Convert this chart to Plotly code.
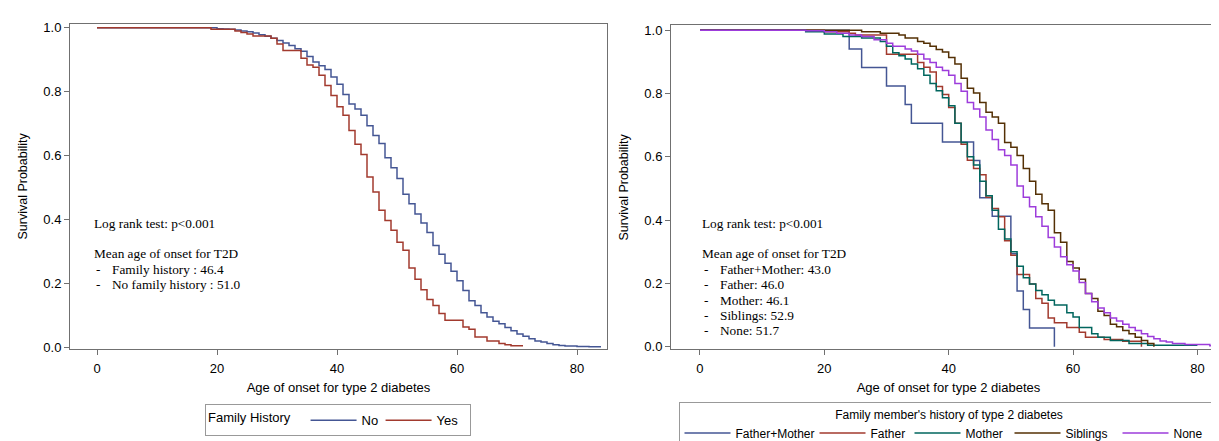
import plotly.graph_objects as go

W, H = 1219, 441

# ---------------- Data ----------------
# Left panel: Family History
no_age = [0, 20, 21, 22, 23, 24, 25, 26, 27, 28, 29, 30, 31, 32, 33, 34, 35, 36, 37, 38, 39,
          40, 41, 42, 43, 44, 45, 46, 47, 48, 49, 50, 51, 52, 53, 54, 55, 56, 57, 58, 59,
          60, 61, 62, 63, 64, 65, 66, 67, 68, 69, 70, 71, 72, 73, 74, 75, 76, 77, 78, 80, 82, 84]
no_surv = [1.0, 0.997, 0.996, 0.995, 0.993, 0.990, 0.987, 0.983, 0.978, 0.973, 0.967, 0.960, 0.952,
           0.944, 0.934, 0.926, 0.910, 0.893, 0.881, 0.869, 0.846, 0.823, 0.791, 0.761, 0.746,
           0.726, 0.693, 0.663, 0.638, 0.593, 0.562, 0.528, 0.479, 0.449, 0.417, 0.389, 0.359,
           0.319, 0.291, 0.263, 0.238, 0.208, 0.178, 0.146, 0.131, 0.108, 0.095, 0.082, 0.074,
           0.062, 0.052, 0.042, 0.035, 0.027, 0.020, 0.017, 0.012, 0.008, 0.006, 0.004, 0.003,
           0.002, 0.002]

yes_age = [0, 19, 23, 24, 25, 26, 29, 30, 31, 34, 35, 36, 37, 38, 39, 40, 41, 42, 43, 44, 45,
           46, 47, 48, 49, 50, 51, 52, 53, 54, 55, 56, 57, 58, 61, 62, 63, 65, 67, 68, 69, 71]
yes_surv = [1.0, 0.995, 0.990, 0.985, 0.980, 0.974, 0.967, 0.949, 0.929, 0.904, 0.883, 0.876,
            0.851, 0.819, 0.788, 0.753, 0.726, 0.678, 0.635, 0.603, 0.533, 0.486, 0.429, 0.397,
            0.366, 0.329, 0.304, 0.248, 0.213, 0.180, 0.150, 0.131, 0.106, 0.085, 0.064, 0.057,
            0.032, 0.020, 0.012, 0.008, 0.005, 0.005]

# Right panel: family member's history
fm_age = [0, 24, 26, 30, 33, 34, 39, 44, 45, 47, 50, 51, 52, 53, 57]
fm_surv = [1.0, 0.941, 0.882, 0.824, 0.765, 0.706, 0.647, 0.588, 0.471, 0.412, 0.294, 0.176,
           0.118, 0.059, 0.0]

fa_age = [0, 20, 24, 25, 30, 35, 36, 37, 38, 39, 40, 41, 42, 43, 44, 45, 46, 47, 48, 49, 50,
          51, 53, 54, 55, 56, 57, 59, 61, 62, 65, 68, 71]
fa_surv = [1.0, 0.995, 0.990, 0.985, 0.924, 0.898, 0.883, 0.868, 0.822, 0.797, 0.756, 0.706,
           0.640, 0.589, 0.563, 0.543, 0.472, 0.437, 0.411, 0.335, 0.289, 0.228, 0.198, 0.152,
           0.137, 0.091, 0.076, 0.061, 0.046, 0.030, 0.023, 0.017, 0.0]

mo_age = [0, 17, 20, 23, 26, 29, 30, 31, 32, 33, 34, 35, 36, 37, 38, 39, 40, 41, 42, 43, 44,
          45, 46, 47, 48, 49, 50, 51, 52, 53, 54, 55, 56, 57, 59, 60, 61, 63, 64, 66, 69, 72, 80]
mo_surv = [1.0, 0.995, 0.988, 0.980, 0.975, 0.964, 0.949, 0.929, 0.919, 0.909, 0.893, 0.878,
           0.858, 0.832, 0.809, 0.787, 0.761, 0.706, 0.645, 0.600, 0.574, 0.523, 0.477, 0.431,
           0.371, 0.340, 0.300, 0.254, 0.218, 0.198, 0.178, 0.164, 0.147, 0.132, 0.107, 0.094,
           0.061, 0.041, 0.030, 0.020, 0.010, 0.005, 0.005]

si_age = [0, 26, 29, 32, 33, 35, 36, 37, 38, 39, 40, 41, 42, 43, 44, 45, 46, 47, 48, 49, 50,
          51, 52, 53, 54, 55, 56, 57, 58, 59, 60, 61, 62, 63, 64, 65, 66, 67, 68, 69, 70, 71,
          72, 73]
si_surv = [1.0, 0.995, 0.990, 0.985, 0.975, 0.964, 0.959, 0.949, 0.939, 0.931, 0.914, 0.893,
           0.848, 0.817, 0.802, 0.772, 0.741, 0.726, 0.706, 0.645, 0.630, 0.604, 0.563, 0.523,
           0.482, 0.452, 0.431, 0.360, 0.330, 0.269, 0.249, 0.213, 0.168, 0.152, 0.112, 0.099,
           0.071, 0.063, 0.051, 0.041, 0.030, 0.020, 0.010, 0.0]

no_fam_age = [0, 17, 20, 22, 24, 26, 28, 30, 31, 33, 34, 35, 36, 37, 38, 39, 40, 41, 42, 43,
              44, 45, 46, 47, 48, 49, 50, 51, 52, 53, 54, 55, 56, 57, 58, 59, 60, 61, 62, 63,
              64, 65, 66, 67, 68, 69, 70, 71, 72, 73, 74, 75, 76, 78, 82, 84]
no_fam_surv = [1.0, 0.998, 0.995, 0.990, 0.985, 0.980, 0.970, 0.959, 0.949, 0.941, 0.934,
               0.924, 0.909, 0.898, 0.883, 0.873, 0.858, 0.832, 0.807, 0.772, 0.751, 0.726,
               0.685, 0.655, 0.622, 0.604, 0.574, 0.508, 0.472, 0.442, 0.411, 0.381, 0.345,
               0.315, 0.284, 0.259, 0.239, 0.203, 0.168, 0.142, 0.122, 0.107, 0.091, 0.081,
               0.071, 0.061, 0.051, 0.041, 0.032, 0.025, 0.018, 0.015, 0.010, 0.007, 0.003,
               0.003]

left_names = ["No", "Yes"]
right_names = ["Father+Mother", "Father", "Mother", "Siblings", "None"]

left_text = ["Log rank test: p<0.001", "", "Mean age of onset for T2D"]
left_items = ["Family history : 46.4", "No family history : 51.0"]
right_items = ["Father+Mother: 43.0", "Father: 46.0", "Mother: 46.1", "Siblings: 52.9", "None: 51.7"]

x_ticks = [0, 20, 40, 60, 80]
y_ticks = [0.0, 0.2, 0.4, 0.6, 0.8, 1.0]

# ---------------- Styling ----------------
C_BLUE, C_RED, C_GREEN, C_BROWN, C_PURPLE = "#445694", "#A23A2E", "#01665E", "#543005", "#9D3CDB"
AX = "#707070"
TXT = "#000"
SANS = "Liberation Sans, Arial, sans-serif"
SERIF = "Liberation Serif, Times New Roman, serif"

# legend entry widths (spacing only)
left_lw = [14, 28]
right_lw = [74, 34, 39, 47, 40]


def px_x(p):
    return p / W


def px_y(p):
    return 1 - p / H


fig = go.Figure()

left_series = [(no_age, no_surv, C_BLUE), (yes_age, yes_surv, C_RED)]
for (a, s, c), n, lw in zip(left_series, left_names, left_lw):
    fig.add_trace(go.Scatter(x=a, y=s, mode="lines", line=dict(color=c, width=1.5, shape="hv"),
                             name=n, xaxis="x", yaxis="y", legend="legend", legendwidth=lw,
                             hoverinfo="x+y+name"))

right_series = [(fm_age, fm_surv, C_BLUE), (fa_age, fa_surv, C_RED), (mo_age, mo_surv, C_GREEN),
                (si_age, si_surv, C_BROWN), (no_fam_age, no_fam_surv, C_PURPLE)]
for (a, s, c), n, lw in zip(right_series, right_names, right_lw):
    fig.add_trace(go.Scatter(x=a, y=s, mode="lines", line=dict(color=c, width=1.5, shape="hv"),
                             name=n, xaxis="x2", yaxis="y2", legend="legend2", legendwidth=lw,
                             hoverinfo="x+y+name"))

axis_common = dict(showline=True, linecolor=AX, linewidth=1, mirror=True, ticks="outside",
                   ticklen=5, tickcolor=AX, showgrid=False, zeroline=False,
                   tickfont=dict(family=SANS, size=13, color=TXT))

xa = dict(axis_common, tickvals=x_ticks, ticklabelstandoff=2,
          title=dict(text="Age of onset for type 2 diabetes",
                     font=dict(family=SANS, size=13, color=TXT), standoff=8))
ya = dict(axis_common, tickvals=y_ticks, tickformat=".1f",
          title=dict(text="Survival Probability", font=dict(family=SANS, size=12.5, color=TXT),
                     standoff=12))

fig.update_layout(
    width=W, height=H, margin=dict(l=0, r=0, t=0, b=0),
    paper_bgcolor="white", plot_bgcolor="white",
    xaxis=dict(xa, domain=[px_x(62), px_x(599)], range=[-4.5, 85], anchor="y"),
    yaxis=dict(ya, domain=[px_y(351), px_y(13)], range=[-0.006, 1.013], anchor="x"),
    xaxis2=dict(xa, domain=[px_x(663), px_x(1218)], range=[-4.66, 84.6], anchor="y2"),
    yaxis2=dict(ya, domain=[px_y(351), px_y(15)], range=[-0.008, 1.015], anchor="x2"),
    legend=dict(orientation="h", x=px_x(330), xanchor="center", y=px_y(408), yanchor="top",
                title=dict(text="Family History\u00a0\u00a0", side="left",
                           font=dict(family=SANS, size=13, color=TXT)),
                font=dict(family=SANS, size=13, color=TXT), bordercolor="#999", borderwidth=1,
                bgcolor="white", itemwidth=46),
    legend2=dict(orientation="h", x=px_x(941), xanchor="center", y=px_y(406), yanchor="top",
                 title=dict(text="Family member's history of type 2 diabetes", side="top center",
                            font=dict(family=SANS, size=12, color=TXT)),
                 font=dict(family=SANS, size=12, color=TXT), bordercolor="#999", borderwidth=1,
                 bgcolor="white", itemwidth=46),
    showlegend=True,
)

# ---------------- Text annotations ----------------
TFONT = dict(family=SERIF, size=13.3, color=TXT)
ann = []
ys = [221, 236, 252]
for t, yy in zip(left_text, ys):
    if t:
        for x0 in (84, 692):
            ann.append(dict(text=t, x=px_x(x0), y=px_y(yy), xref="paper", yref="paper",
                            xanchor="left", yanchor="middle", showarrow=False, font=TFONT))
for items, xd, xt in ((left_items, 86, 102), (right_items, 694, 710)):
    for i, t in enumerate(items):
        yy = 268 + 16 * i
        ann.append(dict(text="-", x=px_x(xd), y=px_y(yy), xref="paper", yref="paper",
                        xanchor="left", yanchor="middle", showarrow=False, font=TFONT))
        ann.append(dict(text=t, x=px_x(xt), y=px_y(yy), xref="paper", yref="paper",
                        xanchor="left", yanchor="middle", showarrow=False, font=TFONT))
fig.update_layout(annotations=ann)

fig.write_html("out.html")
